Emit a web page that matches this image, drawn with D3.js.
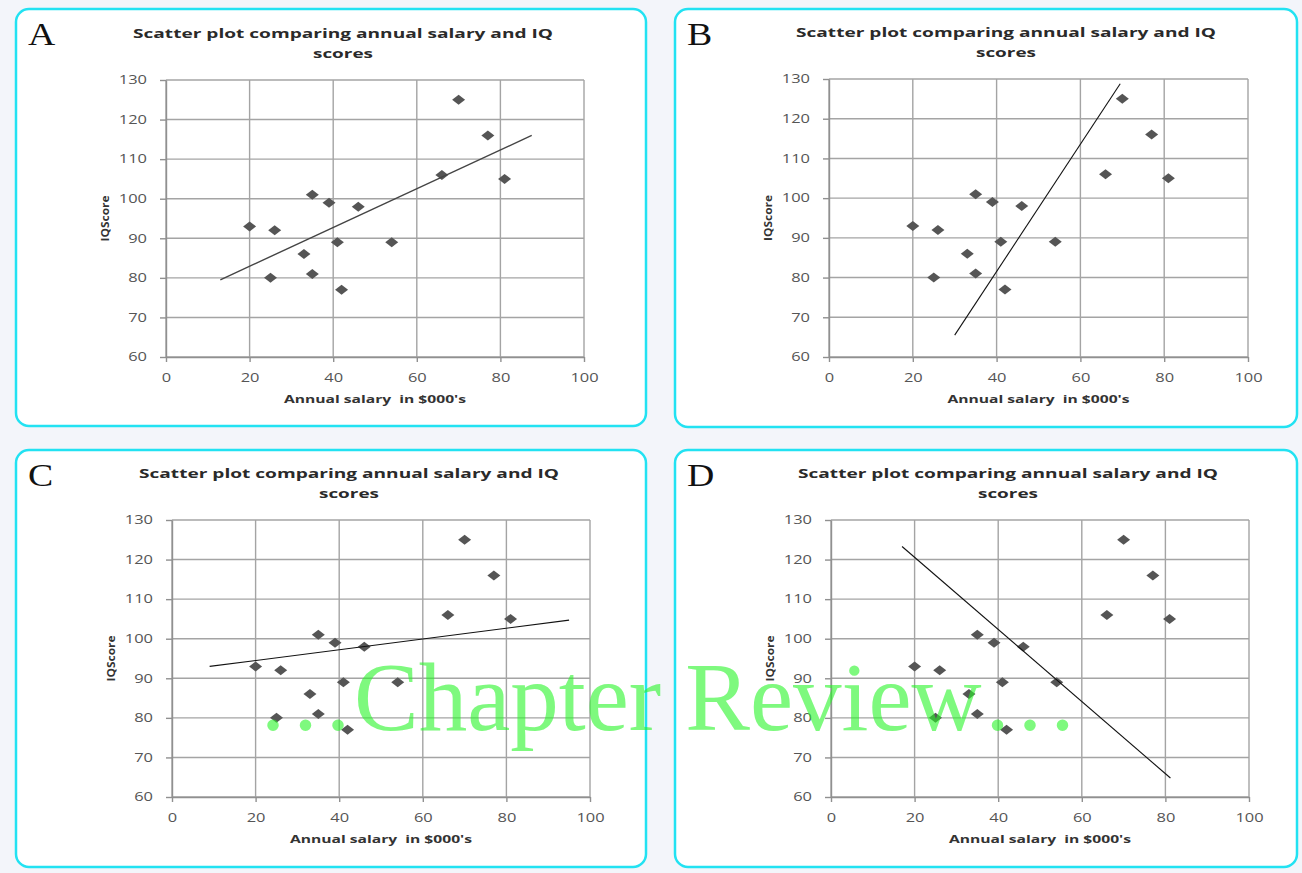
<!DOCTYPE html>
<html>
<head>
<meta charset="utf-8">
<script src="https://cdn.jsdelivr.net/npm/d3@7"></script>
<style>
  body { margin: 0; background: #f3f5fa; }
  svg { display: block; }
</style>
</head>
<body>
<script>
// data
const salary = [20, 25, 26, 33, 35, 35, 39, 41, 42, 46, 54, 66, 70, 77, 81];
const iqScore = [93, 80, 92, 86, 101, 81, 99, 89, 77, 98, 89, 106, 125, 116, 105];
const panelLetters = ['A', 'B', 'C', 'D'];
// the drawn line in each panel, [salary, iq] at both ends
const fitLines = [
  [[13, 79.5], [87.5, 116]],
  [[30, 65.5], [69.5, 128.8]],
  [[9, 93], [95, 104.7]],
  [[17, 123.3], [81.2, 64.8]],
];
const xTicks = [0, 20, 40, 60, 80, 100];
const yTicks = [60, 70, 80, 90, 100, 110, 120, 130];
const titleLines = ['Scatter plot comparing annual salary and IQ', 'scores'];
const xTitle = "Annual salary  in $000's";
const yTitle = 'IQScore';
const watermark = '\u2026Chapter Review\u2026';

// layout of the four panels
const boxes = [
  { x: 16, y: 9, w: 630, h: 417 },
  { x: 675, y: 9, w: 622, h: 418 },
  { x: 16, y: 450, w: 630, h: 417 },
  { x: 675, y: 450, w: 622, h: 417 },
];
const plots = [
  { x0: 166, x1: 584, top: 80, bottom: 357 },
  { x0: 829, x1: 1248, top: 79, bottom: 357 },
  { x0: 172, x1: 590, top: 520, bottom: 797 },
  { x0: 831, x1: 1249, top: 520, bottom: 797 },
];

const data = salary.map((s, i) => ({ salary: s, iq: iqScore[i] }));

const svg = d3
  .select('body')
  .append('svg')
  .attr('width', 1302)
  .attr('height', 873);

svg.append('rect')
  .attr('width', 1302)
  .attr('height', 873)
  .attr('fill', '#f3f5fa');

const font = "'Open Sans', 'DejaVu Sans', sans-serif";

panelLetters.forEach((letter, i) => {
  const box = boxes[i];
  const p = plots[i];
  const g = svg.append('g');

  // panel frame
  g.append('rect')
    .attr('x', box.x)
    .attr('y', box.y)
    .attr('width', box.w)
    .attr('height', box.h)
    .attr('rx', 13)
    .attr('fill', '#ffffff')
    .attr('stroke', '#22e2f2')
    .attr('stroke-width', 2.5);

  // panel letter
  g.append('text')
    .attr('transform', `translate(${box.x + 12},${box.y + 36}) scale(1.22,1)`)
    .style('font-family', "'Liberation Serif', serif")
    .style('font-size', '31px')
    .attr('fill', '#111')
    .text(letter);

  const x = d3.scaleLinear().domain([0, 100]).range([p.x0, p.x1]);
  const y = d3.scaleLinear().domain([60, 130]).range([p.bottom, p.top]);

  // title
  titleLines.forEach((t, k) => {
    g.append('text')
      .attr('x', p.x0 + 177)
      .attr('y', p.top - 42 + k * 20)
      .attr('text-anchor', 'middle')
      .attr('textLength', k === 0 ? 420 : 60)
      .attr('lengthAdjust', 'spacingAndGlyphs')
      .style('font-family', font)
      .style('font-size', '13px')
      .style('font-weight', 'bold')
      .attr('fill', '#2a2a2a')
      .text(t);
  });

  // gridlines
  g.selectAll('.vgrid')
    .data(xTicks)
    .enter()
    .append('line')
    .attr('x1', (d) => x(d))
    .attr('x2', (d) => x(d))
    .attr('y1', y(60))
    .attr('y2', y(130))
    .attr('stroke', '#a4a4a4')
    .attr('stroke-width', 1.4);
  g.selectAll('.hgrid')
    .data(yTicks)
    .enter()
    .append('line')
    .attr('x1', x(0))
    .attr('x2', x(100))
    .attr('y1', (d) => y(d))
    .attr('y2', (d) => y(d))
    .attr('stroke', '#a4a4a4')
    .attr('stroke-width', 1.4);

  // axes
  const yAxis = g.append('g')
    .attr('transform', `translate(${p.x0},0)`)
    .call(d3.axisLeft(y).tickValues(yTicks).tickSize(6).tickSizeOuter(0).tickPadding(13));
  const xAxis = g.append('g')
    .attr('transform', `translate(0,${p.bottom})`)
    .call(d3.axisBottom(x).tickValues(xTicks).tickSize(5).tickSizeOuter(0).tickPadding(11));
  [yAxis, xAxis].forEach((a) => {
    a.select('.domain').attr('stroke', '#909090').attr('stroke-width', 1.4);
    a.selectAll('.tick line').attr('stroke', '#909090').attr('stroke-width', 1.4);
    a.selectAll('.tick text')
      .attr('fill', '#555')
      .style('font-family', font)
      .style('font-size', '12px')
      .attr('textLength', (d) => String(d).length * 9.4)
      .attr('lengthAdjust', 'spacingAndGlyphs');
  });

  // axis titles
  g.append('text')
    .attr('x', (p.x0 + p.x1) / 2)
    .attr('y', p.bottom + 46)
    .attr('text-anchor', 'middle')
    .attr('textLength', 182)
    .attr('lengthAdjust', 'spacingAndGlyphs')
    .style('font-family', font)
    .style('font-size', '11px')
    .style('font-weight', 'bold')
    .style('white-space', 'pre')
    .attr('fill', '#333')
    .text(xTitle);
  g.append('text')
    .attr('transform', `translate(${p.x0 - 57},${(p.top + p.bottom) / 2}) rotate(-90)`)
    .attr('text-anchor', 'middle')
    .attr('textLength', 46)
    .attr('lengthAdjust', 'spacingAndGlyphs')
    .style('font-family', font)
    .style('font-size', '11px')
    .style('font-weight', 'bold')
    .attr('fill', '#333')
    .text(yTitle);

  // points
  g.selectAll('.pt')
    .data(data)
    .enter()
    .append('path')
    .attr('d', 'M0,-5L6.5,0L0,5L-6.5,0Z')
    .attr('transform', (d) => `translate(${x(d.salary)},${y(d.iq)})`)
    .attr('fill', '#555555');

  // fitted line
  g.append('path')
    .datum(fitLines[i])
    .attr('d', d3.line().x((d) => x(d[0])).y((d) => y(d[1])))
    .attr('fill', 'none')
    .attr('stroke', i === 0 ? '#444' : '#111')
    .attr('stroke-width', i === 0 ? 1.4 : 1.1);
});

// watermark over the lower panels
svg.append('text')
  .attr('x', 257)
  .attr('y', 730)
  .style('font-family', "'Liberation Serif', serif")
  .style('font-size', '97px')
  .attr('fill', 'rgb(40,245,40)')
  .attr('fill-opacity', 0.6)
  .text(watermark);
</script>
</body>
</html>
